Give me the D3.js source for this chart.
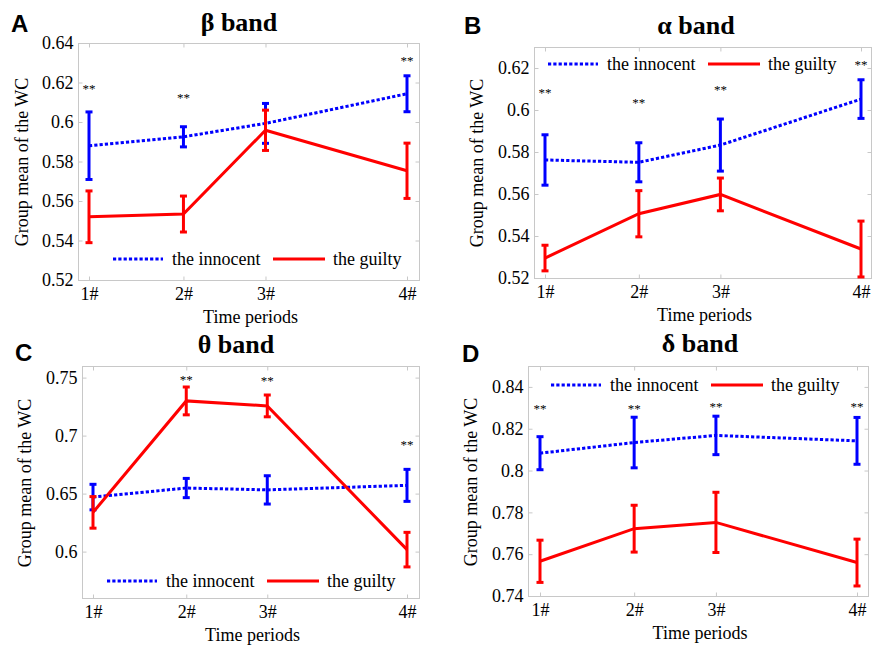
<!DOCTYPE html>
<html>
<head>
<meta charset="utf-8">
<script src="https://cdn.jsdelivr.net/npm/d3@7"></script>
<style>
  html, body { margin: 0; padding: 0; background: #fff; }
  svg { display: block; }
  svg text { font-family: "Liberation Serif", Tinos, "Times New Roman", Times, "Nimbus Roman", "DejaVu Serif", "Noto Serif", serif; fill: #000; }
  svg text.letter { font-family: "Liberation Sans", Arimo, Arial, "DejaVu Sans", sans-serif; }
</style>
</head>
<body>
<svg id="chart" width="872" height="646"></svg>
<script>
// ---------------- DATA ----------------
const periodLabels = ["1#", "2#", "3#", "4#"];
const periodTimes = [0, 0.297, 0.555, 1];          // relative time of each period
const seriesNames = ["the innocent", "the guilty"];

// beta band
const betaInnocentMean = [0.5880, 0.5925, 0.5993, 0.6143];
const betaInnocentSE   = [0.0171, 0.0051, 0.0101, 0.0091];
const betaGuiltyMean   = [0.5520, 0.5534, 0.5958, 0.5753];
const betaGuiltySE     = [0.0131, 0.0091, 0.0102, 0.0140];
const betaStars        = [0.6180, 0.6135, null, 0.6324];
const betaTicks        = [0.52, 0.54, 0.56, 0.58, 0.60, 0.62, 0.64];

// alpha band
const alphaInnocentMean = [0.5762, 0.5751, 0.5833, 0.6052];
const alphaInnocentSE   = [0.0120, 0.0093, 0.0124, 0.0092];
const alphaGuiltyMean   = [0.5295, 0.5506, 0.5598, 0.5338];
const alphaGuiltySE     = [0.0061, 0.0110, 0.0078, 0.0133];
const alphaStars        = [0.6094, 0.6049, 0.6110, 0.6229];
const alphaTicks        = [0.52, 0.54, 0.56, 0.58, 0.60, 0.62];

// theta band
const thetaInnocentMean = [0.6470, 0.6548, 0.6532, 0.6571];
const thetaInnocentSE   = [0.0110, 0.0083, 0.0122, 0.0138];
const thetaGuiltyMean   = [0.6338, 0.7299, 0.7256, 0.6017];
const thetaGuiltySE     = [0.0136, 0.0120, 0.0094, 0.0149];
const thetaStars        = [null, 0.7506, 0.7494, 0.6949];
const thetaTicks        = [0.60, 0.65, 0.70, 0.75];

// delta band
const deltaInnocentMean = [0.8083, 0.8134, 0.8168, 0.8142];
const deltaInnocentSE   = [0.0079, 0.0121, 0.0092, 0.0112];
const deltaGuiltyMean   = [0.7566, 0.7722, 0.7752, 0.7560];
const deltaGuiltySE     = [0.0101, 0.0112, 0.0144, 0.0112];
const deltaStars        = [0.8309, 0.8309, 0.8319, 0.8319];
const deltaTicks        = [0.74, 0.76, 0.78, 0.80, 0.82, 0.84];

// ---------------- LAYOUT ----------------
const panels = [
  { letter: "A", greek: "β", yDomain: [0.52, 0.64], ticks: betaTicks,
    inn: betaInnocentMean, innSE: betaInnocentSE, gui: betaGuiltyMean, guiSE: betaGuiltySE, stars: betaStars,
    box: { x0: 78, x1: 419, y0: 43, y1: 280 }, xr: [89, 407],
    title: { x: 239, y: 31 }, letterPos: { x: 11, y: 32 }, ylab: { x: 22, y: 162 },
    legend: { x: 113, y: 259 } },
  { letter: "B", greek: "α", yDomain: [0.52, 0.63], ticks: alphaTicks,
    inn: alphaInnocentMean, innSE: alphaInnocentSE, gui: alphaGuiltyMean, guiSE: alphaGuiltySE, stars: alphaStars,
    box: { x0: 534, x1: 871, y0: 47, y1: 278 }, xr: [545, 861],
    title: { x: 696, y: 34 }, letterPos: { x: 464, y: 34 }, ylab: { x: 477, y: 163 },
    legend: { x: 548, y: 64 } },
  { letter: "C", greek: "θ", yDomain: [0.56, 0.76], ticks: thetaTicks,
    inn: thetaInnocentMean, innSE: thetaInnocentSE, gui: thetaGuiltyMean, guiSE: thetaGuiltySE, stars: thetaStars,
    box: { x0: 82, x1: 419, y0: 366, y1: 598 }, xr: [93, 407],
    title: { x: 236, y: 353 }, letterPos: { x: 15, y: 361 }, ylab: { x: 25, y: 483 },
    legend: { x: 107, y: 581 } },
  { letter: "D", greek: "δ", yDomain: [0.74, 0.85], ticks: deltaTicks,
    inn: deltaInnocentMean, innSE: deltaInnocentSE, gui: deltaGuiltyMean, guiSE: deltaGuiltySE, stars: deltaStars,
    box: { x0: 528, x1: 868, y0: 366, y1: 596 }, xr: [540, 857],
    title: { x: 700, y: 352 }, letterPos: { x: 462, y: 362 }, ylab: { x: 471, y: 482 },
    legend: { x: 551, y: 385 } }
];

const BLUE = "#0000ff", RED = "#ff0000", GRID = "#c8c8c8";
const DOTS = "3.2,2.1";
const svg = d3.select("#chart");

function fmt(v) { return String(+v.toFixed(2)); }

panels.forEach(p => {
  const g = svg.append("g");
  const x = d3.scaleLinear().domain([0, 1]).range(p.xr);
  const y = d3.scaleLinear().domain(p.yDomain).range([p.box.y1, p.box.y0]);

  // box
  g.append("rect")
    .attr("x", p.box.x0 + 0.5).attr("y", p.box.y0 + 0.5)
    .attr("width", p.box.x1 - p.box.x0).attr("height", p.box.y1 - p.box.y0)
    .attr("fill", "none").attr("stroke", GRID).attr("stroke-width", 1);

  // axes
  const styleAxis = sel => {
    sel.attr("font-family", null).attr("font-size", null);
    sel.select(".domain").remove();
    sel.selectAll(".tick line").attr("stroke", GRID);
    sel.selectAll(".tick text").style("font-size", "18px").attr("fill", "#000");
  };
  g.append("g").attr("transform", `translate(${p.box.x0 + 0.5},0)`)
    .call(d3.axisLeft(y).tickValues(p.ticks).tickFormat(fmt).tickSize(-4).tickPadding(5))
    .call(styleAxis);
  g.append("g").attr("transform", `translate(${p.box.x1 + 0.5},0)`)
    .call(d3.axisRight(y).tickValues(p.ticks).tickFormat("").tickSize(-4))
    .call(styleAxis);
  g.append("g").attr("transform", `translate(0,${p.box.y1 + 0.5})`)
    .call(d3.axisBottom(x).tickValues(periodTimes).tickFormat((d, i) => periodLabels[i]).tickSize(-4).tickPadding(7))
    .call(styleAxis);
  g.append("g").attr("transform", `translate(0,${p.box.y0 + 0.5})`)
    .call(d3.axisTop(x).tickValues(periodTimes).tickFormat("").tickSize(-4))
    .call(styleAxis);

  // series
  const series = [
    { mean: p.inn, se: p.innSE, color: BLUE, dash: DOTS },
    { mean: p.gui, se: p.guiSE, color: RED, dash: null }
  ];
  const line = d3.line().x((d, i) => x(periodTimes[i])).y(d => y(d));
  series.forEach(s => {
    g.append("path").datum(s.mean)
      .attr("d", line).attr("fill", "none")
      .attr("stroke", s.color).attr("stroke-width", 3)
      .attr("stroke-dasharray", s.dash);
    const eb = g.append("g").attr("stroke", s.color).attr("stroke-width", 3).attr("fill", "none");
    s.mean.forEach((m, i) => {
      const cx = x(periodTimes[i]);
      const yt = y(m + s.se[i]), yb = y(m - s.se[i]);
      eb.append("line").attr("x1", cx).attr("x2", cx).attr("y1", yt).attr("y2", yb);
      eb.append("line").attr("x1", cx - 3.5).attr("x2", cx + 3.5).attr("y1", yt).attr("y2", yt);
      eb.append("line").attr("x1", cx - 3.5).attr("x2", cx + 3.5).attr("y1", yb).attr("y2", yb);
    });
  });

  // significance stars
  p.stars.forEach((v, i) => {
    if (v == null) return;
    g.append("text").attr("x", x(periodTimes[i])).attr("y", y(v) + 7)
      .attr("text-anchor", "middle").style("font-size", "13px").text("**");
  });

  // legend
  const L = p.legend;
  g.append("line").attr("x1", L.x).attr("x2", L.x + 50).attr("y1", L.y).attr("y2", L.y)
    .attr("stroke", BLUE).attr("stroke-width", 3).attr("stroke-dasharray", DOTS);
  g.append("text").attr("x", L.x + 59).attr("y", L.y).attr("dy", "0.32em")
    .style("font-size", "18px").text(seriesNames[0]);
  g.append("line").attr("x1", L.x + 160).attr("x2", L.x + 212).attr("y1", L.y).attr("y2", L.y)
    .attr("stroke", RED).attr("stroke-width", 3);
  g.append("text").attr("x", L.x + 220).attr("y", L.y).attr("dy", "0.32em")
    .style("font-size", "18px").text(seriesNames[1]);

  // title
  const t = g.append("text").attr("x", p.title.x).attr("y", p.title.y)
    .attr("text-anchor", "middle").style("font-size", "26px").style("font-weight", "bold");
  t.append("tspan").text(p.greek + " ");
  t.append("tspan").text("band");

  // panel letter
  g.append("text").attr("class", "letter").attr("x", p.letterPos.x).attr("y", p.letterPos.y)
    .style("font-size", "24px").style("font-weight", "bold").text(p.letter);

  // axis labels
  g.append("text").attr("transform", `translate(${p.ylab.x},${p.ylab.y}) rotate(-90)`)
    .attr("text-anchor", "middle").attr("dy", "0.35em")
    .style("font-size", "18px").text("Group mean of the WC");
  g.append("text").attr("x", (p.box.x0 + p.box.x1) / 2 + 2).attr("y", p.box.y1 + 43)
    .attr("text-anchor", "middle").style("font-size", "18px").text("Time periods");
});
</script>
</body>
</html>
